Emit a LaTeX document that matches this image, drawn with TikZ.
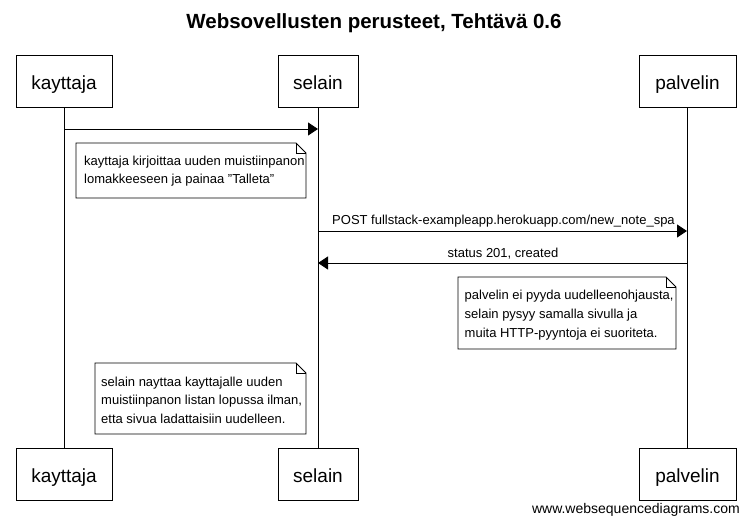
\documentclass[tikz,border=0pt]{standalone}
\usepackage{fontspec}
\setmainfont{Liberation Sans}[Ligatures=ResetAll]
\usetikzlibrary{arrows.meta}
\begin{document}
\begin{tikzpicture}[x=1pt,y=-1pt,
  actor/.style={draw,line width=0.8pt,minimum height=52pt,inner sep=0pt,text height=18pt,text depth=0pt,font=\fontsize{19}{22}\selectfont},
  life/.style={line width=0.8pt},
  msg/.style={line width=0.8pt,-{Triangle[length=10pt,width=13pt]}},
  lbl/.style={font=\fontsize{13}{15}\selectfont,inner sep=0pt},
  notetext/.style={font=\fontsize{13}{18.8}\selectfont,align=left,anchor=north west,inner sep=0pt},
  notebox/.style={line width=0.8pt}
]
\useasboundingbox (0,0) rectangle (748,526);
\node[font=\bfseries\fontsize{20.5}{22}\selectfont] (title) at (374,23) {Websovellusten perusteet, Tehtävä 0.6};
% actors top
\node[actor,minimum width=96pt] (kt) at (64,81) {kayttaja};
\node[actor,minimum width=80pt] (st) at (318,81) {selain};
\node[actor,minimum width=97pt] (pt) at (687.5,81) {palvelin};
% actors bottom
\node[actor,minimum width=96pt] (kb) at (64,474) {kayttaja};
\node[actor,minimum width=80pt] (sb) at (318,474) {selain};
\node[actor,minimum width=97pt] (pb) at (687.5,474) {palvelin};
% lifelines
\draw[life] (kt.south) -- (kb.north);
\draw[life] (st.south) -- (sb.north);
\draw[life] (pt.south) -- (pb.north);
% messages
\coordinate (k1) at (64,129); \coordinate (s1) at (318,129);
\draw[msg] (k1) -- (s1);
% note 1
\draw[notebox] (76,143) -- (296,143) -- (306,153) -- (306,198) -- (76,198) -- cycle;
\draw[notebox] (296,143) -- (296,153) -- (306,153);
\node[notetext] (n1) at (84,155.5) {kayttaja kirjoittaa uuden muistiinpanon\\lomakkeeseen ja painaa "Talleta"};
% message 2
\coordinate (s2) at (318,231); \coordinate (p2) at (687,231);
\draw[msg] (s2) -- (p2);
\node[lbl] (l2) at (503.5,221) {POST fullstack-exampleapp.herokuapp.com/new\_note\_spa};
% message 3
\coordinate (p3) at (687,263); \coordinate (s3) at (318,263);
\draw[msg] (p3) -- (s3);
\node[lbl] (l3) at (503,254) {status 201, created};
% note 2
\draw[notebox] (458,277) -- (666,277) -- (676,287) -- (676,349) -- (458,349) -- cycle;
\draw[notebox] (666,277) -- (666,287) -- (676,287);
\node[notetext] (n2) at (464.5,290) {palvelin ei pyyda uudelleenohjausta,\\selain pysyy samalla sivulla ja\\muita HTTP-pyyntoja ei suoriteta.};
% note 3
\draw[notebox] (95,363) -- (296,363) -- (306,373) -- (306,434) -- (95,434) -- cycle;
\draw[notebox] (296,363) -- (296,373) -- (306,373);
\node[notetext] (n3) at (101,376.5) {selain nayttaa kayttajalle uuden\\muistiinpanon listan lopussa ilman,\\etta sivua ladattaisiin uudelleen.};
% watermark
\node[font=\fontsize{14}{15}\selectfont,anchor=east,inner sep=0pt] (wm) at (740,510) {www.websequencediagrams.com};
\end{tikzpicture}
\end{document}
